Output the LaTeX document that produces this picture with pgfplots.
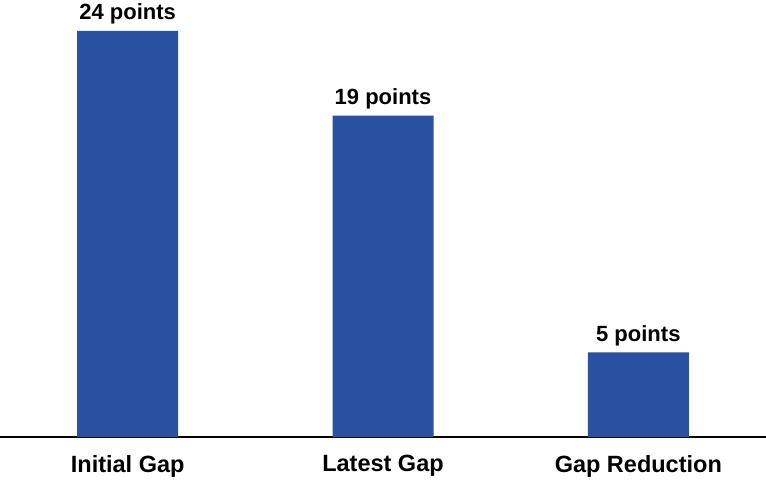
\documentclass[border=0pt]{standalone}
\usepackage{pgfplots}
\pgfplotsset{compat=1.18}
\usepackage{fontspec}
\setmainfont{Liberation Sans}
\definecolor{barblue}{HTML}{2A51A1}
\begin{document}
\begin{tikzpicture}[x=1pt,y=1pt]
\useasboundingbox (0,-43) rectangle (766,437);
\begin{axis}[
  at={(0,0)}, anchor=south west,
  scale only axis, width=766pt, height=437pt,
  xmin=-0.5, xmax=2.5, ymin=0, ymax=25.83,
  axis x line=bottom, axis y line=none,
  axis line style={black, line width=1.3pt, -},
  x axis line style={-},
  xtick=data, xticklabels={Initial Gap, Latest Gap, Gap Reduction},
  xticklabel style={font=\bfseries\fontsize{23.5}{26}\selectfont, yshift=-14.5pt},
  major tick length=0pt,
  /pgf/number format/assume math mode=true,
  ybar, bar width=101pt,
  nodes near coords={\pgfmathprintnumber{\pgfplotspointmeta} points},
  nodes near coords style={font=\bfseries\fontsize{22}{24}\selectfont, yshift=3pt},
  clip=false,
]
\addplot[fill=barblue, draw=none] coordinates {(0,24) (1,19) (2,5)};
\end{axis}
\end{tikzpicture}
\end{document}
